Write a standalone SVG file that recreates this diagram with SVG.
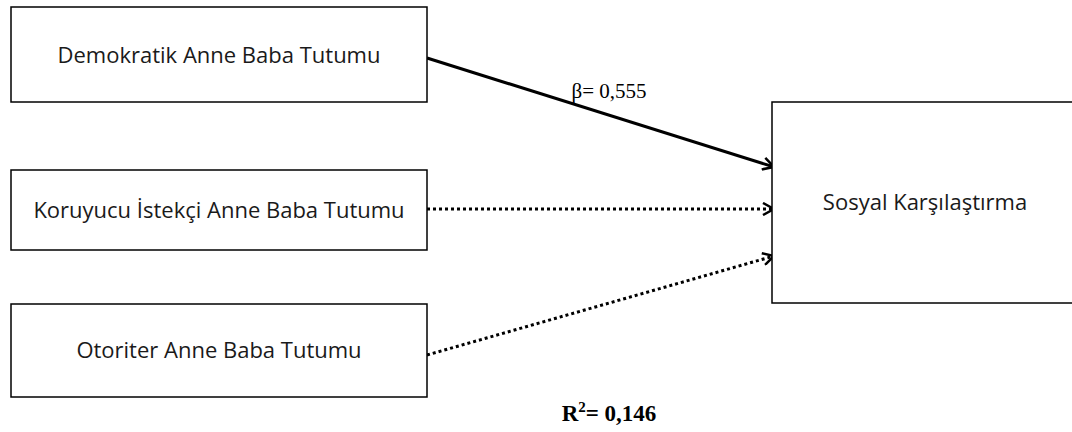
<svg xmlns="http://www.w3.org/2000/svg" width="1072" height="432" viewBox="0 0 1072 432">
<style>
.box{fill:#fff;stroke:#000;stroke-width:1.5}
.lbl{font-family:"Open Sans","Liberation Sans",sans-serif;font-size:22px;fill:#1a1a1a;text-anchor:middle}
.solid{stroke:#000;stroke-width:3;fill:none}
.dot{stroke:#000;stroke-width:3;fill:none;stroke-dasharray:3 3}
.stat{font-family:"Liberation Serif",serif;fill:#000}
</style>
<defs>
<marker id="ah" viewBox="0 0 14 14" refX="12" refY="7" markerWidth="14" markerHeight="14" markerUnits="userSpaceOnUse" orient="auto">
<path d="M1,1 L12,7 L1,13" fill="none" stroke="#000" stroke-width="2.5"/>
</marker>
</defs>
<rect width="1072" height="432" fill="#fff"/>
<g id="connectors">
<line class="solid" x1="427" y1="58" x2="774" y2="167" marker-end="url(#ah)"/>
<line class="dot" x1="427" y1="209" x2="774" y2="209" marker-end="url(#ah)"/>
<line class="dot" x1="427" y1="355" x2="774" y2="256" marker-end="url(#ah)"/>
<text class="stat" x="609" y="98" font-size="21" text-anchor="middle">β= 0,555</text>
</g>
<g id="n1">
<rect class="box" x="11" y="7" width="416" height="95"/>
<text class="lbl" x="219" y="63">Demokratik Anne Baba Tutumu</text>
</g>
<g id="n2">
<rect class="box" x="11" y="170" width="416" height="80"/>
<text class="lbl" x="219" y="218">Koruyucu İstekçi Anne Baba Tutumu</text>
</g>
<g id="n3">
<rect class="box" x="11" y="304" width="416" height="93"/>
<text class="lbl" x="219" y="358">Otoriter Anne Baba Tutumu</text>
</g>
<g id="n4">
<rect class="box" x="772" y="102" width="306" height="201"/>
<text class="lbl" x="925" y="210">Sosyal Karşılaştırma</text>
</g>
<g id="r2">
<text class="stat" x="609" y="421" font-size="23" font-weight="bold" text-anchor="middle">R<tspan font-size="15" dy="-9">2</tspan><tspan dy="9">= 0,146</tspan></text>
</g>
</svg>
